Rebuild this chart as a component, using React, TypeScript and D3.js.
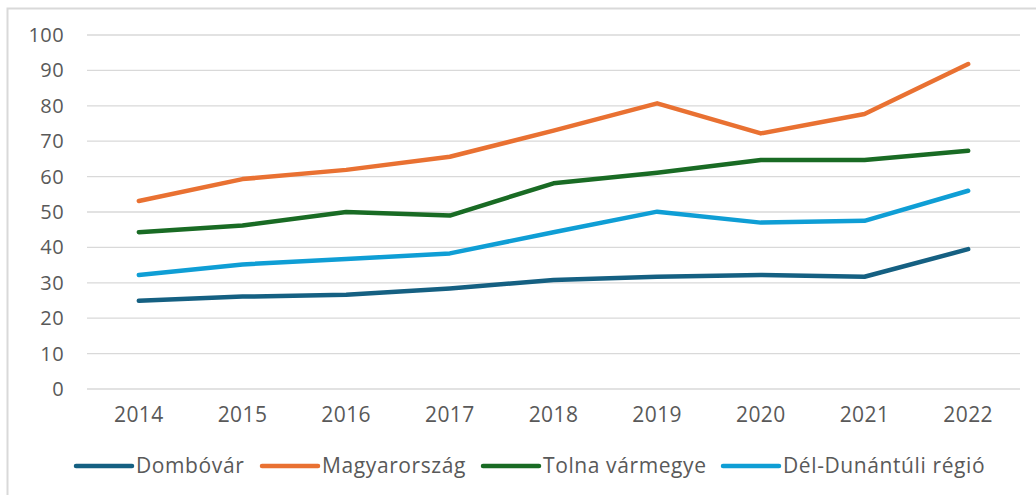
import React, { useEffect, useRef } from 'react'
import * as d3 from 'd3'

const years = ['2014', '2015', '2016', '2017', '2018', '2019', '2020', '2021', '2022']
const dombovar = [24.9, 26.1, 26.6, 28.4, 30.8, 31.7, 32.2, 31.7, 39.5]
const magyarorszag = [53.1, 59.3, 61.9, 65.6, 73.0, 80.7, 72.2, 77.7, 91.8]
const tolna = [44.3, 46.2, 50.0, 49.0, 58.1, 61.1, 64.7, 64.7, 67.3]
const delDunantul = [32.2, 35.2, 36.7, 38.3, 44.3, 50.1, 47.0, 47.5, 56.0]
const yTicks = [0, 10, 20, 30, 40, 50, 60, 70, 80, 90, 100]

const seriesNames = ['Dombóvár', 'Magyarország', 'Tolna vármegye', 'Dél-Dunántúli régió']
const seriesValues = [dombovar, magyarorszag, tolna, delDunantul]
const colors = ['#156082', '#E97132', '#196B24', '#0F9ED5']

const W = 1036
const H = 495
const FONT = '"Open Sans", "Noto Sans", sans-serif'

export default function App() {
    const ref = useRef<SVGSVGElement>(null)

    useEffect(() => {
        const svg = d3.select(ref.current)
        svg.selectAll('*').remove()

        const left = 87, right = 1020, top = 35, bottom = 389

        const x = d3.scaleBand().domain(years).range([left, right])
        const y = d3.scaleLinear().domain([0, 100]).range([bottom, top])

        // outer frame (top and left edges only visible)
        svg.append('path')
            .attr('d', `M7.5,${H} V8.5 H${W}`)
            .attr('fill', 'none')
            .attr('stroke', '#d9d9d9')
            .attr('stroke-width', 2)

        // gridlines
        svg.append('g')
            .selectAll('line')
            .data(yTicks)
            .join('line')
            .attr('x1', left)
            .attr('x2', right)
            .attr('y1', d => y(d))
            .attr('y2', d => y(d))
            .attr('stroke', '#d9d9d9')
            .attr('stroke-width', 1.3)

        // y labels
        svg.append('g')
            .selectAll('text')
            .data(yTicks)
            .join('text')
            .attr('x', 64)
            .attr('y', d => y(d))
            .attr('dy', '0.35em')
            .attr('text-anchor', 'end')
            .attr('font-family', FONT)
            .attr('font-size', 20)
            .attr('letter-spacing', 0.4)
            .attr('fill', '#595959')
            .text(d => d)

        // x labels
        svg.append('g')
            .selectAll('text')
            .data(years)
            .join('text')
            .attr('x', d => x(d)! + x.bandwidth() / 2)
            .attr('y', 422)
            .attr('text-anchor', 'middle')
            .attr('font-family', FONT)
            .attr('font-size', 21)
            .attr('letter-spacing', 0.4)
            .attr('fill', '#595959')
            .text(d => d)

        const line = d3.line<number>()
            .x((_, i) => x(years[i])! + x.bandwidth() / 2)
            .y(d => y(d))

        svg.append('g')
            .selectAll('path')
            .data(seriesValues)
            .join('path')
            .attr('d', d => line(d))
            .attr('fill', 'none')
            .attr('stroke', (_, i) => colors[i])
            .attr('stroke-width', 4.5)
            .attr('stroke-linejoin', 'round')
            .attr('stroke-linecap', 'round')

        // legend
        const legendX = [76, 262, 483, 723]
        const legend = svg.append('g')
            .selectAll('g')
            .data(seriesNames)
            .join('g')
            .attr('transform', (_, i) => `translate(${legendX[i]},466)`)
        legend.append('line')
            .attr('x1', 0)
            .attr('x2', 56)
            .attr('stroke', (_, i) => colors[i])
            .attr('stroke-width', 4.5)
            .attr('stroke-linecap', 'round')
        legend.append('text')
            .attr('x', 60)
            .attr('dy', '0.35em')
            .attr('font-family', FONT)
            .attr('font-size', 21)
            .attr('letter-spacing', 0.6)
            .attr('fill', '#595959')
            .text(d => d)
    }, [])

    return (
        <svg ref={ref} width={W} height={H}
            style={{ position: 'absolute', left: 0, top: 0, background: '#fff' }} />
    )
}
